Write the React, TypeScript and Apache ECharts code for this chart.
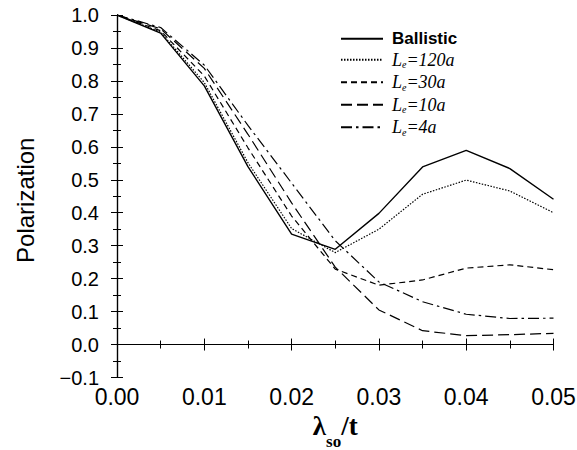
import React, { useEffect, useRef } from "react";
import * as echarts from "echarts";

const xValues = [0, 0.005, 0.01, 0.015, 0.02, 0.025, 0.03, 0.035, 0.04, 0.045, 0.05];
const ballistic = [1.0, 0.945, 0.785, 0.54, 0.335, 0.289, 0.398, 0.539, 0.589, 0.534, 0.441];
const le120 = [1.0, 0.948, 0.795, 0.552, 0.352, 0.279, 0.35, 0.456, 0.499, 0.466, 0.4];
const le30 = [1.0, 0.952, 0.815, 0.597, 0.39, 0.229, 0.18, 0.196, 0.232, 0.242, 0.227];
const le10 = [1.0, 0.958, 0.838, 0.638, 0.43, 0.235, 0.105, 0.042, 0.027, 0.03, 0.034];
const le4 = [1.0, 0.962, 0.848, 0.665, 0.49, 0.315, 0.19, 0.13, 0.092, 0.079, 0.08];

const seriesNames = ["Ballistic", "Le=120a", "Le=30a", "Le=10a", "Le=4a"];
const seriesData = [ballistic, le120, le30, le10, le4];
const dashTypes: any[] = ["solid", [1.5, 1.5], [6, 4], [11, 5], [11, 4, 2.5, 4]];

const SANS = "'Liberation Sans', Arial, sans-serif";
const SERIF = "'Liberation Serif', 'Times New Roman', serif";

export default function App() {
  const ref = useRef<HTMLDivElement>(null);
  useEffect(() => {
    if (!ref.current) return;
    const chart = echarts.init(ref.current, null, { renderer: "svg" });
    const axisLine = { show: true, lineStyle: { color: "#000", width: 1.2 } };
    const tick = { show: true, inside: true, length: 6, lineStyle: { color: "#000", width: 1 } };
    const minor = { show: true, splitNumber: 2, length: 4, lineStyle: { color: "#000", width: 1 } };
    const fmtY = (v: number) => v.toFixed(1).replace("-", "\u2212");
    const option: any = {
      animation: false,
      backgroundColor: "#fff",
      grid: { left: 117, right: 23.5, top: 15, bottom: 72.5, containLabel: false, outerBoundsMode: "none" },
      legend: {
        left: 340,
        top: 30.3,
        padding: 0,
        orient: "vertical",
        itemWidth: 42,
        itemHeight: 14,
        itemGap: 3.5,
        data: seriesNames,
        selectedMode: false,
        itemStyle: { opacity: 0 },
        formatter: (name: string) =>
          name === "Ballistic" ? "{b|Ballistic}" : "{i|L}{s|e}{i|" + name.slice(2) + "}",
        textStyle: {
          color: "#000",
          padding: [0, 0, 0, 4],
          rich: {
            b: { fontFamily: SANS, fontWeight: "bold", fontSize: 17, color: "#000", lineHeight: 18 },
            i: { fontFamily: SERIF, fontStyle: "italic", fontSize: 18, color: "#000", lineHeight: 18, verticalAlign: "top" },
            s: { fontFamily: SERIF, fontStyle: "italic", fontSize: 10, color: "#000", lineHeight: 9, padding: [9, 0, 0, 0], verticalAlign: "top" },
          },
        },
      },
      xAxis: [
        {
          type: "value",
          min: 0,
          max: 0.05,
          interval: 0.01,
          position: "bottom",
          axisLine,
          axisTick: tick,
          minorTick: minor,
          splitLine: { show: false },
          axisLabel: { color: "#000", fontFamily: SANS, fontSize: 23, margin: 7.5, formatter: (v: number) => v.toFixed(2) },
          name: "{l|\u03bb}{s|so}{l|/t}",
          nameLocation: "middle",
          nameGap: 22.5,
          nameTextStyle: {
            rich: {
              l: { fontFamily: SERIF, fontWeight: "bold", fontSize: 27, lineHeight: 30, color: "#000", verticalAlign: "top" },
              s: { fontFamily: SERIF, fontWeight: "bold", fontSize: 17, lineHeight: 17, color: "#000", padding: [20, 0, 0, 0], verticalAlign: "top" },
            },
          },
        },
        {
          type: "value",
          min: 0,
          max: 0.05,
          interval: 0.01,
          position: "top",
          axisLine,
          axisTick: tick,
          minorTick: minor,
          splitLine: { show: false },
          axisLabel: { show: false },
        },
      ],
      yAxis: [
        {
          type: "value",
          min: -0.1,
          max: 1.0,
          interval: 0.1,
          position: "left",
          axisLine,
          axisTick: tick,
          minorTick: minor,
          splitLine: { show: false },
          axisLabel: { color: "#000", fontFamily: SANS, fontSize: 20, margin: 18, formatter: fmtY },
          name: "Polarization",
          nameLocation: "middle",
          nameRotate: 90,
          nameGap: 80,
          nameTextStyle: { fontFamily: SANS, fontSize: 24, color: "#000", padding: [0, 8, 0, 0] },
        },
        {
          type: "value",
          min: -0.1,
          max: 1.0,
          interval: 0.1,
          position: "right",
          axisLine,
          axisTick: tick,
          minorTick: minor,
          splitLine: { show: false },
          axisLabel: { show: false },
        },
      ],
      series: seriesNames.map((name, k) => ({
        name,
        type: "line",
        symbol: "none",
        xAxisIndex: 0,
        yAxisIndex: 0,
        color: "#000",
        lineStyle: { color: "#000", width: k === 0 ? 1.4 : 1.2, type: dashTypes[k] },
        data: xValues.map((x, i) => [x, seriesData[k][i]]),
        markLine:
          k === 0
            ? {
                silent: true,
                symbol: "none",
                label: { show: false },
                lineStyle: { color: "#000", width: 1.2, type: "solid" },
                data: [{ yAxis: 0 }],
              }
            : undefined,
      })),
    };
    chart.setOption(option);
    return () => chart.dispose();
  }, []);
  return (
    <div
      ref={ref}
      style={{ position: "absolute", left: 0, top: 0, width: 577, height: 450, background: "#fff" }}
    />
  );
}
